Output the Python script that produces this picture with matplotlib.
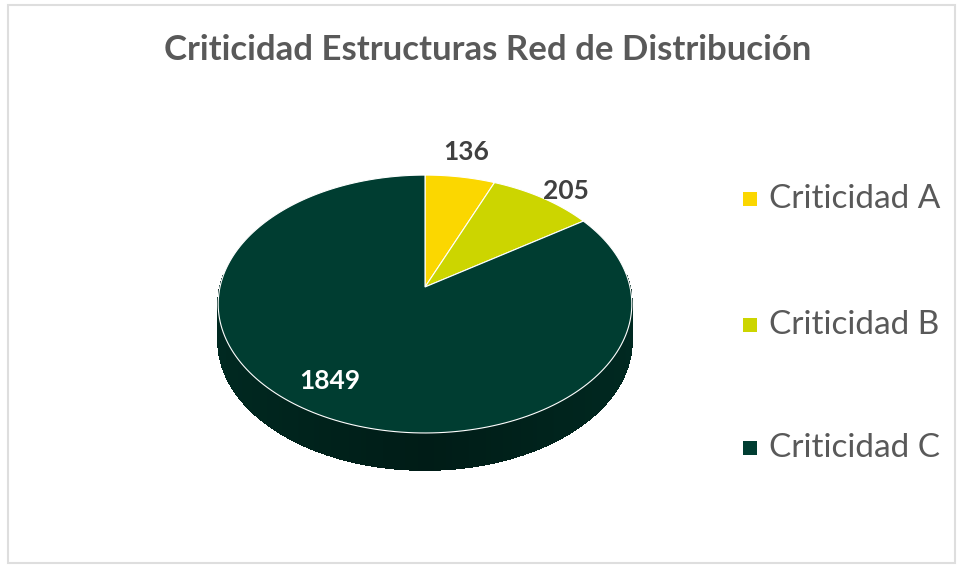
import matplotlib.pyplot as plt
import numpy as np
from matplotlib.patches import Polygon, Rectangle
from matplotlib.collections import PolyCollection
from matplotlib.colors import to_rgb

plt.rcParams['font.family'] = ['Lato', 'DejaVu Sans']

# data
categories = ['Criticidad A', 'Criticidad B', 'Criticidad C']
values = [136, 205, 1849]
colors = ['#fbd700', '#ccd500', '#003d31']
title = 'Criticidad Estructuras Red de Distribución'

# layout of the 3d pie (pixels)
W, H = 961, 567
cx, cy = 425, 287        # apex of the pie
rx, ry = 205, 126.7      # radii before perspective
persp = 0.132            # far side a bit smaller
depth = 37
label_r = [1.25, 1.12, 0.8]
label_off = [(-2, -1), (11, 3), (-10, -5)]   # small nudges like excel
label_col = ['#404040', '#404040', 'white']
legend_y = [199, 325, 448]


def project(theta, r=1.0):
    # theta clockwise from 12 o'clock
    u = r * np.sin(theta)
    v = r * np.cos(theta)
    w = 1 + persp * v
    return cx + rx * u / w, cy - ry * v / w


def shade(c, f):
    return tuple(np.clip(np.array(to_rgb(c)) * f, 0, 1))


fig = plt.figure(figsize=(9.61, 5.67), dpi=100)
ax = fig.add_axes([0, 0, 1, 1])
ax.set_xlim(0, W)
ax.set_ylim(H, 0)
ax.axis('off')

# chart frame
ax.add_patch(Rectangle((8, 5), 947, 558, fill=False, edgecolor='#dedede', lw=1.5))

vals = np.array(values, dtype=float)
bounds = np.concatenate([[0], np.cumsum(vals)]) / vals.sum() * 2 * np.pi

# side of the cylinder
th = np.linspace(0, 2 * np.pi, 1441)
quads, qcols = [], []
for t0, t1 in zip(th[:-1], th[1:]):
    tm = 0.5 * (t0 + t1)
    if np.cos(tm) > 0.1:
        continue
    k = np.searchsorted(bounds, tm) - 1
    x0, y0 = project(t0)
    x1, y1 = project(t1)
    quads.append([(x0, y0), (x1, y1), (x1, y1 + depth), (x0, y0 + depth)])
    f = 0.68 - 0.22 * (1 - abs(np.sin(tm)))
    qcols.append(shade(colors[k], f))
ax.add_collection(PolyCollection(quads, facecolors=qcols, edgecolors=qcols,
                                 lw=0.6, antialiased=False))

# top face
for i, (a0, a1) in enumerate(zip(bounds[:-1], bounds[1:])):
    t = np.linspace(a0, a1, 200)
    xs, ys = project(t)
    pts = np.column_stack([np.r_[cx, xs], np.r_[cy, ys]])
    ax.add_patch(Polygon(pts, closed=True, facecolor=colors[i], edgecolor='white', lw=0.8))

# labels
for i, (a0, a1) in enumerate(zip(bounds[:-1], bounds[1:])):
    lx, ly = project(0.5 * (a0 + a1), label_r[i])
    ax.text(lx + label_off[i][0], ly + label_off[i][1], str(values[i]),
            ha='center', va='center', fontsize=19, fontweight='bold', color=label_col[i])

ax.text(488, 50, title, ha='center', va='center', fontsize=25,
        fontweight='bold', color='#595959')

# legend
for i, name in enumerate(categories):
    ax.add_patch(Rectangle((743, legend_y[i] - 7), 14, 14, facecolor=colors[i], edgecolor='none'))
    ax.text(769, legend_y[i], name, ha='left', va='center', fontsize=24, color='#595959')

fig.savefig('out.png', dpi=100, facecolor='white')
